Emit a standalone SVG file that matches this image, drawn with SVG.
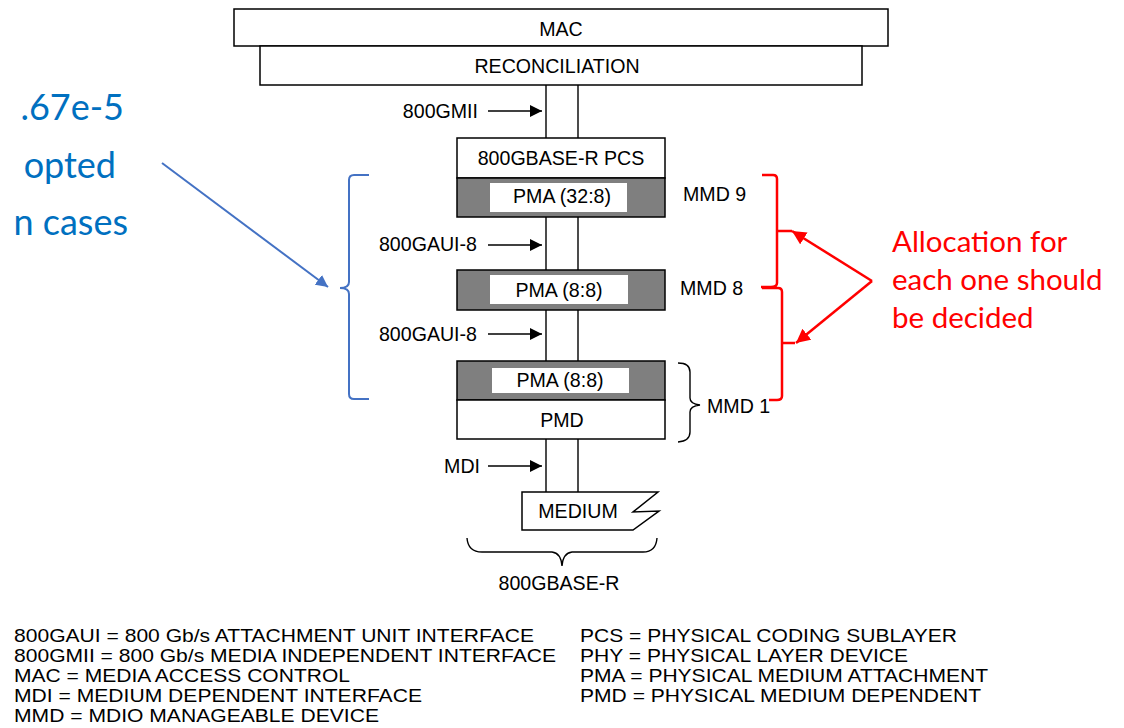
<svg xmlns="http://www.w3.org/2000/svg" width="1124" height="728" viewBox="0 0 1124 728">
<defs>
<style>
.t{font-family:"Liberation Sans",Arial,sans-serif;font-size:19.6px;fill:#000}
.c{text-anchor:middle}
.e{text-anchor:end}
.box{fill:#fff;stroke:#000;stroke-width:1.5}
.dark{fill:#7f7f7f;stroke:#000;stroke-width:1.5}
.inner{fill:#fff;stroke:none}
.ln{stroke:#000;stroke-width:1.4;fill:none}
.arr{stroke:#000;stroke-width:1.6}
.blue{font-family:Lato,"Open Sans",sans-serif;font-size:36px;fill:#0070C0;text-anchor:end}
.red{font-family:Lato,"Open Sans",sans-serif;font-size:29.5px;fill:#FF0000}
.leg{font-family:"Liberation Sans",Arial,sans-serif;font-size:18.5px;fill:#000}
</style>
<marker id="ah" viewBox="0 0 10 10" refX="10" refY="5" markerWidth="12" markerHeight="12" markerUnits="userSpaceOnUse" orient="auto"><path d="M0,0 L10,5 L0,10 z" fill="#000"/></marker>
<marker id="ahb" viewBox="0 0 10 10" refX="10" refY="5" markerWidth="12" markerHeight="12" markerUnits="userSpaceOnUse" orient="auto"><path d="M0,0 L10,5 L0,10 z" fill="#4472C4"/></marker>
<marker id="ahr" viewBox="0 0 10 10" refX="10" refY="5" markerWidth="14" markerHeight="14" markerUnits="userSpaceOnUse" orient="auto"><path d="M0,0 L10,5 L0,10 z" fill="#FF0000"/></marker>
</defs>
<rect width="1124" height="728" fill="#fff"/>

<g id="connectors">
<path class="ln" d="M546,85 V138 M578,85 V138"/>
<path class="ln" d="M546,217 V270 M578,217 V270"/>
<path class="ln" d="M546,310 V361 M578,310 V361"/>
<path class="ln" d="M546,439 V492 M578,439 V492"/>
<line class="arr" x1="488" y1="111" x2="542" y2="111" marker-end="url(#ah)"/>
<line class="arr" x1="488" y1="245" x2="542" y2="245" marker-end="url(#ah)"/>
<line class="arr" x1="488" y1="334" x2="542" y2="334" marker-end="url(#ah)"/>
<line class="arr" x1="488" y1="466" x2="542" y2="466" marker-end="url(#ah)"/>
<line x1="162" y1="163" x2="328" y2="287" stroke="#4472C4" stroke-width="2" marker-end="url(#ahb)"/>
<line x1="872" y1="281" x2="792" y2="231" stroke="#FF0000" stroke-width="2.5" marker-end="url(#ahr)"/>
<line x1="872" y1="281" x2="796" y2="343" stroke="#FF0000" stroke-width="2.5" marker-end="url(#ahr)"/>
</g>

<g id="mac"><rect class="box" x="234" y="9" width="654" height="37"/><text class="t c" x="561" y="36">MAC</text></g>
<g id="reconciliation"><rect class="box" x="260" y="46" width="602" height="39"/><text class="t c" x="557" y="73">RECONCILIATION</text></g>
<g id="lbl-800gmii"><text class="t e" x="478" y="118">800GMII</text></g>
<g id="pcs"><rect class="box" x="457" y="138" width="208" height="40"/><text class="t c" x="561" y="165">800GBASE-R PCS</text></g>
<g id="pma1"><rect class="dark" x="457" y="178" width="208" height="39"/><rect class="inner" x="490" y="183" width="137" height="29"/><text class="t c" x="562" y="203">PMA (32:8)</text></g>
<g id="mmd9"><text class="t" x="683" y="201">MMD 9</text></g>
<g id="lbl-gaui1"><text class="t e" x="477" y="251">800GAUI-8</text></g>
<g id="pma2"><rect class="dark" x="457" y="270" width="208" height="40"/><rect class="inner" x="490" y="275" width="138" height="29"/><text class="t c" x="559" y="297">PMA (8:8)</text></g>
<g id="mmd8"><text class="t" x="680" y="295">MMD 8</text></g>
<g id="lbl-gaui2"><text class="t e" x="477" y="341">800GAUI-8</text></g>
<g id="pma3"><rect class="dark" x="457" y="361" width="208" height="39"/><rect class="inner" x="492" y="368" width="137" height="25"/><text class="t c" x="560" y="387">PMA (8:8)</text></g>
<g id="pmd"><rect class="box" x="457" y="400" width="208" height="39"/><text class="t c" x="562" y="427">PMD</text></g>
<g id="mmd1"><path class="ln" d="M678,363 Q690,363 690,372 V398 Q690,404 700,405 Q690,406 690,412 V432 Q690,441 678,442"/><text class="t" x="707" y="413">MMD 1</text></g>
<g id="lbl-mdi"><text class="t e" x="480" y="473">MDI</text></g>
<g id="medium"><path class="box" d="M522,492 H658 L633,512 L659,511 L633,530 H522 Z"/><text class="t c" x="578" y="518">MEDIUM</text></g>
<g id="base-r"><path class="ln" d="M467,538 Q468,552 482,552 H552 Q561,553 562,566 Q563,553 572,552 H643 Q656,552 657,538"/><text class="t c" x="559" y="590">800GBASE-R</text></g>

<g id="blue-note">
<text class="blue" x="124" y="120">.67e-5</text>
<text class="blue" x="116" y="178">opted</text>
<text class="blue" x="128" y="235">n cases</text>
<path d="M369,175 H354 Q349,175 349,180 V282 Q349,288 340,288 Q349,288 349,294 V394 Q349,399 354,399 H369" fill="none" stroke="#4472C4" stroke-width="2"/>
</g>

<g id="red-note">
<path d="M762,175 H773 Q777,175 777,179 V231 H792 M777,231 V283 Q777,287 771,287 H761 M762,288 H778 Q782,288 782,292 V343 H795 M782,343 V396 Q782,400 777,400 H769" fill="none" stroke="#FF0000" stroke-width="2.5"/>
<text class="red" x="892" y="252">Allocation for</text>
<text class="red" x="892" y="290">each one should</text>
<text class="red" x="892" y="328">be decided</text>
</g>

<g id="legend">
<text class="leg" x="14" y="642" textLength="520" lengthAdjust="spacingAndGlyphs">800GAUI = 800 Gb/s ATTACHMENT UNIT INTERFACE</text>
<text class="leg" x="14" y="662" textLength="542" lengthAdjust="spacingAndGlyphs">800GMII = 800 Gb/s MEDIA INDEPENDENT INTERFACE</text>
<text class="leg" x="14" y="682" textLength="336" lengthAdjust="spacingAndGlyphs">MAC = MEDIA ACCESS CONTROL</text>
<text class="leg" x="14" y="702" textLength="408" lengthAdjust="spacingAndGlyphs">MDI = MEDIUM DEPENDENT INTERFACE</text>
<text class="leg" x="14" y="722" textLength="365" lengthAdjust="spacingAndGlyphs">MMD = MDIO MANAGEABLE DEVICE</text>
<text class="leg" x="580" y="642" textLength="377" lengthAdjust="spacingAndGlyphs">PCS = PHYSICAL CODING SUBLAYER</text>
<text class="leg" x="580" y="662" textLength="328" lengthAdjust="spacingAndGlyphs">PHY = PHYSICAL LAYER DEVICE</text>
<text class="leg" x="580" y="682" textLength="408" lengthAdjust="spacingAndGlyphs">PMA = PHYSICAL MEDIUM ATTACHMENT</text>
<text class="leg" x="580" y="702" textLength="401" lengthAdjust="spacingAndGlyphs">PMD = PHYSICAL MEDIUM DEPENDENT</text>
</g>
</svg>
